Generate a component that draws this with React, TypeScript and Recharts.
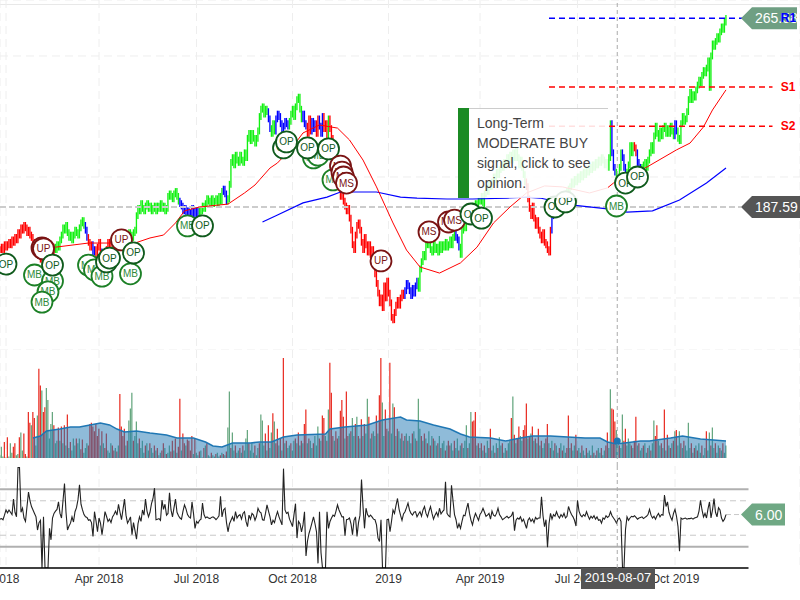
import {
  Area,
  Bar,
  CartesianGrid,
  Cell,
  ComposedChart,
  Line,
  ReferenceDot,
  ReferenceLine,
  XAxis,
  YAxis,
} from "recharts"

// trading days, one row = 20 days = 30px on screen
const price = [
  170,171,170,172,171,172,173,172,174,173,175,174,177,176,179,178,180,179,177,178,
  176,175,172,173,170,169,170,166,168,165,167,163,165,168,166,169,171,170,172,171,
  174,176,179,178,180,177,175,176,174,176,178,177,176,179,181,182,180,178,175,173,
  171,172,169,170,168,171,173,169,167,168,166,170,173,172,170,168,170,172,175,177,
  176,177,176,174,176,175,177,176,175,177,178,184,187,186,189,187,186,188,189,187,
  188,186,187,188,186,188,187,189,187,188,186,187,192,193,192,191,193,194,192,190,
  189,188,186,187,184,186,184,185,187,184,186,184,186,185,186,188,187,189,191,190,
  189,191,189,190,191,189,192,190,194,195,193,190,191,197,206,208,205,209,207,206,
  209,207,206,210,208,216,218,215,218,216,214,216,219,225,228,229,226,228,227,224,
  220,218,222,219,224,226,225,222,219,221,223,222,221,223,226,228,225,229,232,233,
  228,224,226,222,221,218,224,219,223,220,222,218,224,221,218,225,220,222,217,224,
  220,216,212,208,204,200,196,192,194,190,188,186,187,183,178,172,170,176,180,181,
  178,173,170,175,172,169,172,168,170,166,160,156,152,148,150,146,155,150,157,152,
  148,142,141,144,147,149,147,150,152,151,153,156,155,153,151,154,152,155,157,154,
  162,165,168,167,172,174,172,170,169,172,170,171,169,172,170,172,171,173,171,172,
  174,172,175,177,175,174,171,168,178,180,179,182,184,183,186,188,186,189,188,190,
  190,192,189,193,195,194,197,196,198,200,199,202,201,203,205,204,206,205,208,207,
  209,207,210,208,211,208,205,207,204,201,198,196,191,187,184,188,183,180,182,178,
  176,174,177,173,172,170,169,178,184,188,186,190,187,189,191,190,192,193,194,195,
  196,198,197,199,198,200,199,201,200,202,201,203,202,204,203,205,204,206,205,207,
  206,208,207,205,206,204,208,222,210,204,202,200,198,204,210,208,204,202,200,205,
  213,210,213,212,210,206,204,202,204,205,206,204,207,210,213,211,217,221,218,216,
  219,217,220,221,218,220,218,221,219,217,222,219,216,215,222,225,223,224,227,232,
  235,232,234,233,236,238,240,239,242,244,243,245,248,237,250,255,254,256,258,257,
  260,262,261,264,265.58,
]

const trendDays = [0,37,57,59,62,64,68,70,75,120,133,149,152,179,181,184,193,202,205,208,211,213,216,219,220,270,279,304,307,351,368,372,408,411,415,418,423,425,428,450,452]
const trendNames = ["red","green","blue","red","blue","red","blue","red","green","blue","green","blue","green","blue","green","blue","green","blue","red","blue","red","blue","red","green","red","blue","green","blue","green","red","blue","green","blue","green","blue","green","red","blue","green","blue","green"]

const longMaDays = [37,59,90,100,109,117,123,133,152,163,170,173,180,185,195,202,213,225,233,242,251,262,271,280,293,307,318,329,340,351,363,375,393,405,409,431,451,460,469,475,484]
const longMaValues = [171,172.7,172.7,174.8,176,181,186,187.6,188.8,193.4,196.7,198.8,203.7,205.8,212.4,218.2,221.5,220.2,215.3,207,195.9,181,169.8,162.8,160.3,164.5,171,181,187.6,193.4,196.3,195.9,193.4,195.5,197.5,204,211.2,214,220.7,227.7,236]
const slowMaDays = [175,185,202,218,227,251,267,278,298,315,338,351,360,382,405,418,435,453,471,484]
const slowMaValues = [181.4,184.3,189.3,191.7,193.8,193.8,191.7,191.3,190.9,190.9,191.3,191.7,191.3,188.4,186.8,185.5,186,190.5,197.5,203.7]

// signed volume in millions, negative = down day (red)
const volume = [
  14,21,13,-25,12,-29,13,24,16,-21,-24,14,15,-29,33,18,-32,-15,13,-50,
  -41,39,-50,-45,22,47,-86,-72,68,-50,-54,70,60,28,40,50,-39,24,26,-37,
  26,-38,24,-39,22,-48,20,-25,18,28,22,-28,24,28,-19,-27,16,20,24,-22,
  -40,-41,-38,-34,-40,-30,-36,22,-34,24,-20,-32,18,16,24,-22,-18,20,-17,22,
  -65,-38,-30,-36,22,-26,43,53,66,-26,30,42,24,-28,20,26,16,-22,24,18,
  -24,20,16,-22,18,-20,14,16,-18,-24,20,-15,16,22,-17,-26,18,-28,16,-21,
  -61,18,-32,-24,22,-27,-26,-18,-30,15,-28,16,14,-17,18,12,-20,22,-24,14,
  13,-16,14,13,-15,16,13,-14,16,-15,14,-17,37,67,-20,33,18,-22,16,18,
  -20,16,-22,18,28,35,-24,18,24,16,-22,14,20,-24,48,43,22,-32,18,-39,
  20,33,-49,42,-24,-36,22,-28,18,-95,24,-26,20,22,-24,18,26,-28,24,-33,
  22,-26,24,-40,-52,24,-28,26,20,-24,30,22,38,-28,26,-47,-45,30,-26,52,
  -91,-66,-30,26,-34,-28,30,-51,-60,-46,28,-67,-30,32,-34,45,30,-40,46,-30,
  28,-44,30,-40,32,61,-46,28,-32,34,30,-47,32,-64,-95,58,30,-52,-36,34,
  -91,32,57,-54,30,-36,34,28,-32,26,-30,32,-26,30,24,-32,34,28,-26,61,
  36,-30,26,-32,28,-24,34,-22,30,-28,26,22,-24,30,-20,24,26,-18,22,-26,
  -22,24,18,-26,20,28,-18,22,-24,20,26,39,-20,24,50,-42,-43,-50,22,-24,
  20,-24,18,-22,16,26,-20,-36,18,22,-16,24,-20,29,22,-24,16,20,-18,24,
  26,-45,63,-31,24,-28,-38,30,26,-35,-39,-57,28,-30,32,-38,26,-28,24,-36,
  22,-26,20,24,-28,-40,24,-20,26,18,-24,22,16,-20,24,-18,22,16,-20,-47,
  20,-24,18,22,-31,-18,20,16,-22,18,14,-20,16,18,-14,22,-16,14,-18,20,
  16,-20,14,18,-22,-33,20,69,-53,-52,-42,35,24,-22,20,48,-26,-36,22,28,
  24,-22,20,-26,-46,22,-24,18,20,-22,24,16,-20,22,-18,24,43,-30,-39,26,
  22,-24,20,-52,18,-31,22,-20,24,-26,34,-35,22,34,-24,20,-26,22,18,41,
  20,-24,16,-20,22,-18,24,16,-22,14,20,-34,18,33,-22,37,20,-24,16,22,
  -20,18,-24,16,22,
]

const volumeMaDays = [22,27,31,40,47,53,60,67,73,78,83,91,100,111,118,129,137,142,148,155,167,173,181,189,198,217,220,230,245,255,267,271,280,289,300,307,313,327,337,347,355,367,390,400,405,411,427,433,447,455,467,484]
const volumeMaValues = [28.3,30,34.2,35.8,37.5,37.5,39.2,40.8,39.2,35.8,33.3,34.2,32.5,30.8,28.3,28.3,25,21.7,20.8,24.2,24.2,25,25,29.2,30.8,31.7,35.8,37.5,39.2,43.3,45.8,43.3,42.5,39.2,35.8,31.7,29.2,28.3,25.8,28.3,30,30,28.3,28.3,25,23.3,25.8,25.8,28.3,30,27.5,25.8]

const oscillator = [
  -2,-1,-3,5,14,9,14,10,6,33,10,2,88,88,10,17,0,-6,20,45,
  30,20,14,8,2,-21,-8,-4,-87,2,-87,-87,-87,-18,-38,0,8,12,15,28,
  8,0,30,60,10,-21,-14,-9,2,-7,11,18,32,58,24,14,6,2,1,-4,
  -3,-8,-32,11,-5,-24,0,-9,-29,-10,11,3,-6,-2,-8,2,6,12,5,24,
  10,-3,15,33,5,-9,-4,2,-29,-8,-22,-37,-10,2,-6,14,5,33,12,2,
  10,25,34,52,-3,-2,-1,-4,31,15,24,5,8,44,14,2,18,33,10,4,
  0,-2,12,23,16,6,2,0,28,8,-18,-6,-9,-4,-2,26,6,0,2,0,
  -1,1,2,0,-3,0,4,38,2,14,17,-8,-24,-10,-4,2,-6,11,0,4,
  6,-2,8,11,-6,-15,5,-2,8,5,-4,3,17,11,9,-3,-4,8,23,12,
  2,-12,-4,-8,3,11,2,-5,-12,86,14,8,10,-2,-8,-15,6,25,-35,-6,
  -10,-24,-12,11,-66,-40,-27,-18,-8,2,-10,-24,-79,11,-60,-87,-87,-87,11,-18,
  -6,0,5,3,12,23,14,8,2,2,-31,-3,-2,0,-10,-29,-4,2,-32,-8,
  5,67,20,-18,17,6,2,5,2,-2,-3,-12,-35,-41,-3,-87,-87,-87,-3,-2,
  -24,-6,14,8,22,34,16,5,-4,7,11,18,26,14,8,5,10,11,2,7,
  11,3,14,20,8,2,12,20,8,-2,5,10,3,17,7,11,14,63,8,4,
  2,57,30,6,-3,-18,-10,-18,-6,5,4,16,26,8,-4,-12,0,8,2,-4,
  6,10,17,10,3,5,8,-2,12,5,3,8,17,6,2,-3,-1,1,3,0,
  2,4,11,-22,-4,0,-2,2,-6,-2,-10,-18,-4,0,-6,-2,-8,1,-2,0,
  0,37,4,-15,-3,-51,-10,8,-2,6,3,11,4,0,6,2,8,0,3,20,
  12,6,2,-4,-14,31,12,5,2,6,3,11,4,-2,3,0,4,-2,2,-4,
  -3,-9,0,-2,4,1,3,11,4,0,-4,-9,-2,0,-6,-87,-87,-20,2,-4,
  0,3,2,4,1,-2,0,1,2,-1,1,3,6,15,5,0,3,-2,4,8,
  2,6,5,40,20,28,10,2,-4,8,15,3,-15,-58,0,-2,-1,0,-2,-1,
  -1,0,-2,0,1,2,12,31,14,2,8,0,16,28,0,14,34,10,2,18,
  14,0,-6,-2,6,
]

const signalDays = [4,23,35,32,28,28,29,29,35,59,63,68,71,73,81,87,89,125,135,189,191,209,212,205,222,219,227,228,229,231,254,286,299,303,314,321,370,377,411,417,425]
const signalPrices = [164,159.5,157,152.5,148.3,170.7,170.3,170.3,163.6,163.6,161.6,159,164.9,166.5,174,160,168.6,179.8,179.8,212,214.5,207.9,209,212,198.8,211.6,204.5,202,200,197.5,165.3,177.3,181.4,182.2,184.7,183,187.6,189.7,188,197.5,200]
const signalNames = ["OP","MB","MB","MB","MB","UP","UP","UP","OP","MB","MB","MB","OP","OP","UP","MB","OP","MB","OP","OP","OP","MB","MB","OP","MB","OP","MS","MS","MS","MS","UP","MS","MS","MS","OP","OP","OP","OP","MB","OP","OP"]

const tickDays = [4, 66, 131, 195, 259, 320, 385, 450]
const tickLabels = ["2018", "Apr 2018", "Jul 2018", "Oct 2018", "2019", "Apr 2019", "Jul 2019", "Oct 2019"]
const priceTicks = [150, 200, 250]
const volumeTicks = [20, 40, 60, 80]
const oscillatorTicks = [-50, 50]
const levels = [
  { name: "R1", value: 265.58, color: "#0000ff" },
  { name: "S1", value: 237.2, color: "#ff0000" },
  { name: "S2", value: 221, color: "#ff0000" },
]

const FONT = "'Liberation Sans', Arial, sans-serif"
const CURSOR_DAY = 411.5
const LEVEL_START = 366
const LEVEL_END = 515
const PANE_END = 499
const FLAG_DAY = 494
const X_DOMAIN = [0, 533.33]
const TREND_COLORS: Record<string, string> = { red: "#ff0000", green: "#11f011", blue: "#0000ff" }

const lookup = (days: number[], values: number[]) => new Map(days.map((d, i) => [d, values[i]]))
const longMa = lookup(longMaDays, longMaValues)
const slowMa = lookup(slowMaDays, slowMaValues)
const volumeMa = lookup(volumeMaDays, volumeMaValues)

const trendAt = (day: number) => {
  let name = trendNames[0]
  trendDays.forEach((d, i) => {
    if (day >= d) name = trendNames[i]
  })
  return name
}

const priceRows = price.map((value, day) => {
  const prev = day === 0 ? value : price[day - 1]
  return {
    day,
    range: [Math.min(prev, value) - 1.4, Math.max(prev, value) + 1.4],
    trend: trendAt(day),
    longMa: longMa.get(day) ?? null,
    slowMa: slowMa.get(day) ?? null,
  }
})

const volumeRows = volume.map((value, day) => ({
  day,
  volume: Math.abs(value),
  down: value < 0,
  volumeMa: volumeMa.get(day) ?? null,
}))

const oscillatorRows = oscillator.map((value, day) => ({ day, value }))

function PriceTick({ y, payload }: any) {
  return (
    <text x={756} y={y + 5} fontSize={13} fontFamily={FONT} fill="#000">
      {payload.value}
    </text>
  )
}

function DashTick({ y, payload, suffix }: any) {
  return (
    <g>
      <line x1={749} x2={755} y1={y} y2={y} stroke="#000" />
      <text x={payload.value < 0 ? 761 : 762} y={y + 4} fontSize={12} fontFamily={FONT} fill="#000">
        {payload.value}
        {suffix}
      </text>
    </g>
  )
}

function Flag({ cx, cy, text, color, right = 800 }: any) {
  const x = cx
  return (
    <g>
      <polygon
        points={`${x},${cy} ${x + 11},${cy - 11} ${right},${cy - 11} ${right},${cy + 11} ${x + 11},${cy + 11}`}
        fill={color}
      />
      <text x={x + 14} y={cy + 5} fontSize={14} fontFamily={FONT} fill="#fff">
        {text}
      </text>
    </g>
  )
}

function LevelName({ cx, cy, text, color }: any) {
  return (
    <text x={cx} y={cy + 4} fontSize={12} fontWeight="bold" fontFamily={FONT} fill={color}>
      {text}
    </text>
  )
}

function Signal({ cx, cy, text }: any) {
  const bearish = text === "UP" || text === "MS"
  const stroke = bearish ? "#7a1414" : text === "MB" ? "#1c8026" : "#0f5a1c"
  const fill = bearish ? "#7a1414" : text === "MB" ? "#2e8b3c" : "#0f5a1c"
  return (
    <g>
      <circle cx={cx} cy={cy} r={10.5} fill="#fff" stroke={stroke} strokeWidth={1.8} />
      <text x={cx} y={cy + 3.5} textAnchor="middle" fontSize={10} fontFamily={FONT} fill={fill}>
        {text}
      </text>
    </g>
  )
}

export default function App() {
  return (
    <div style={{ position: "fixed", left: 0, top: 0, width: 800, height: 600, background: "#fff", overflow: "hidden" }}>
      <div style={{ position: "absolute", left: 0, top: 4, width: 800, height: 1, background: "#e8e8e8" }} />

      <div style={{ position: "absolute", left: 0, top: 0 }}>
        <ComposedChart width={800} height={350} data={priceRows} margin={{ top: 0, right: 0, bottom: 0, left: 0 }}>
          <CartesianGrid stroke="#eeeeee" strokeDasharray="8 5" />
          <XAxis dataKey="day" type="number" domain={X_DOMAIN} ticks={tickDays} allowDataOverflow hide />
          <YAxis
            type="number"
            domain={[128.5, 273.14]}
            ticks={priceTicks}
            interval={0}
            allowDataOverflow
            orientation="right"
            mirror
            width={0}
            axisLine={false}
            tickLine={false}
            tick={<PriceTick />}
          />
          <ReferenceLine
            segment={[{ x: 0, y: 187.59 }, { x: FLAG_DAY, y: 187.59 }]}
            stroke="#cccccc"
            strokeWidth={2}
            strokeDasharray="6 3"
          />
          <Bar dataKey="range" barSize={2.5} isAnimationActive={false}>
            {priceRows.map((row) => (
              <Cell key={row.day} fill={TREND_COLORS[row.trend]} />
            ))}
          </Bar>
          <Line dataKey="slowMa" stroke="#0000ff" strokeWidth={1.2} dot={false} connectNulls isAnimationActive={false} />
          <Line dataKey="longMa" stroke="#ff0000" strokeWidth={1} dot={false} connectNulls isAnimationActive={false} />
          {signalDays.map((day, i) => (
            <ReferenceDot
              key={i}
              x={day}
              y={signalPrices[i]}
              ifOverflow="visible"
              shape={(p: any) => <Signal {...p} text={signalNames[i]} />}
            />
          ))}
          <ReferenceLine
            segment={[{ x: CURSOR_DAY, y: 128.5 }, { x: CURSOR_DAY, y: 273.14 }]}
            stroke="#aaaaaa"
            strokeDasharray="4 3"
          />
          <ReferenceDot x={FLAG_DAY} y={265.58} ifOverflow="visible" shape={(p: any) => <Flag {...p} text="265.58" color="#6f9f83" right={797} />} />
          <ReferenceDot x={FLAG_DAY} y={187.59} ifOverflow="visible" shape={(p: any) => <Flag {...p} text="187.59" color="#555555" />} />
          {levels.map((level) => (
            <ReferenceLine
              key={level.name}
              segment={[{ x: LEVEL_START, y: level.value }, { x: LEVEL_END, y: level.value }]}
              stroke={level.color}
              strokeWidth={1.5}
              strokeDasharray="6 4"
            />
          ))}
          {levels.map((level) => (
            <ReferenceDot
              key={level.name}
              x={520.5}
              y={level.value}
              ifOverflow="visible"
              shape={(p: any) => <LevelName {...p} text={level.name} color={level.color} />}
            />
          ))}
        </ComposedChart>
      </div>

      <div style={{ position: "absolute", left: 0, top: 350 }}>
        <ComposedChart width={800} height={116} data={volumeRows} margin={{ top: 0, right: 0, bottom: 8, left: 0 }}>
          <CartesianGrid stroke="#eeeeee" strokeDasharray="8 5" horizontal={false} />
          <XAxis dataKey="day" type="number" domain={X_DOMAIN} ticks={tickDays} allowDataOverflow hide />
          <YAxis
            type="number"
            domain={[11.67, 101.67]}
            ticks={volumeTicks}
            interval={0}
            allowDataOverflow
            orientation="right"
            mirror
            width={0}
            axisLine={false}
            tickLine={false}
            tick={<DashTick suffix="M" />}
          />
          <Bar dataKey="volume" barSize={1.2} isAnimationActive={false}>
            {volumeRows.map((row) => (
              <Cell key={row.day} fill={row.down ? "#e8281e" : "#5fa37a"} />
            ))}
          </Bar>
        </ComposedChart>
      </div>

      {/* volume average sits in its own layer so the bars show through it */}
      <div style={{ position: "absolute", left: 0, top: 350 }}>
        <ComposedChart width={800} height={116} data={volumeRows} margin={{ top: 0, right: 0, bottom: 8, left: 0 }}>
          <XAxis dataKey="day" type="number" domain={X_DOMAIN} allowDataOverflow hide />
          <YAxis type="number" domain={[11.67, 101.67]} allowDataOverflow hide />
          <Area
            dataKey="volumeMa"
            type="linear"
            stroke="#1f77b4"
            strokeWidth={1.5}
            fill="#1f77b4"
            fillOpacity={0.5}
            connectNulls
            dot={false}
            isAnimationActive={false}
          />
          <ReferenceLine
            segment={[{ x: CURSOR_DAY, y: 5 }, { x: CURSOR_DAY, y: 101.67 }]}
            ifOverflow="visible"
            stroke="#aaaaaa"
            strokeDasharray="4 3"
          />
          <ReferenceDot x={CURSOR_DAY} y={25.8} r={3.5} fill="#1f77b4" stroke="none" />
        </ComposedChart>
      </div>

      <div style={{ position: "absolute", left: 0, top: 466 }}>
        <ComposedChart width={800} height={134} data={oscillatorRows} margin={{ top: 0, right: 0, bottom: 0, left: 0 }}>
          <CartesianGrid stroke="#eeeeee" strokeDasharray="8 5" horizontal={false} />
          <XAxis
            dataKey="day"
            type="number"
            domain={X_DOMAIN}
            ticks={tickDays}
            interval={0}
            allowDataOverflow
            height={32}
            axisLine={false}
            tickLine={false}
            tickSize={0}
            tickMargin={6}
            tick={{ fontSize: 12, fontFamily: FONT, fill: "#333" }}
            tickFormatter={(day: number) => tickLabels[tickDays.indexOf(day)]}
          />
          <YAxis
            type="number"
            domain={[-87.1, 90.6]}
            ticks={oscillatorTicks}
            interval={0}
            allowDataOverflow
            orientation="right"
            mirror
            width={0}
            axisLine={false}
            tickLine={false}
            tick={<DashTick suffix="" />}
          />
          {[50, -50].map((v) => (
            <ReferenceLine key={v} segment={[{ x: 0, y: v }, { x: PANE_END, y: v }]} stroke="#b0b0b0" strokeWidth={2} />
          ))}
          {[30, -30].map((v) => (
            <ReferenceLine key={v} segment={[{ x: 0, y: v }, { x: PANE_END, y: v }]} stroke="#c8c8c8" strokeDasharray="6 4" />
          ))}
          <ReferenceLine segment={[{ x: 484, y: 6 }, { x: FLAG_DAY, y: 6 }]} stroke="#c8c8c8" strokeDasharray="5 3" />
          <Line dataKey="value" stroke="#222" strokeWidth={1.1} dot={false} isAnimationActive={false} />
          <ReferenceLine
            segment={[{ x: 0, y: -87.1 }, { x: PANE_END, y: -87.1 }]}
            ifOverflow="visible"
            stroke="#000"
            strokeWidth={1.5}
          />
          <ReferenceLine
            segment={[{ x: CURSOR_DAY, y: -87.1 }, { x: CURSOR_DAY, y: 90.6 }]}
            stroke="#aaaaaa"
            strokeDasharray="4 3"
          />
          <ReferenceDot x={FLAG_DAY} y={6} ifOverflow="visible" shape={(p: any) => <Flag {...p} text="6.00" color="#6fa884" right={785} />} />
        </ComposedChart>
      </div>

      <div
        style={{
          position: "absolute",
          left: 458,
          top: 108,
          width: 150,
          height: 90,
          background: "rgba(255,255,255,0.88)",
          borderTop: "1px solid #cccccc",
          boxSizing: "border-box",
          fontFamily: FONT,
          fontSize: 14,
          lineHeight: "20px",
          color: "#444",
          padding: "4px 0 0 19px",
        }}
      >
        <div style={{ position: "absolute", left: 0, top: -1, width: 11, height: 90, background: "#1b8a24" }} />
        Long-Term
        <br />
        MODERATE BUY
        <br />
        signal, click to see
        <br />
        opinion.
      </div>

      <div
        style={{
          position: "absolute",
          left: 581,
          top: 568,
          width: 74,
          height: 21,
          background: "#555",
          color: "#fff",
          fontFamily: FONT,
          fontSize: 13,
          lineHeight: "20px",
          textAlign: "center",
        }}
      >
        2019-08-07
      </div>
    </div>
  )
}
